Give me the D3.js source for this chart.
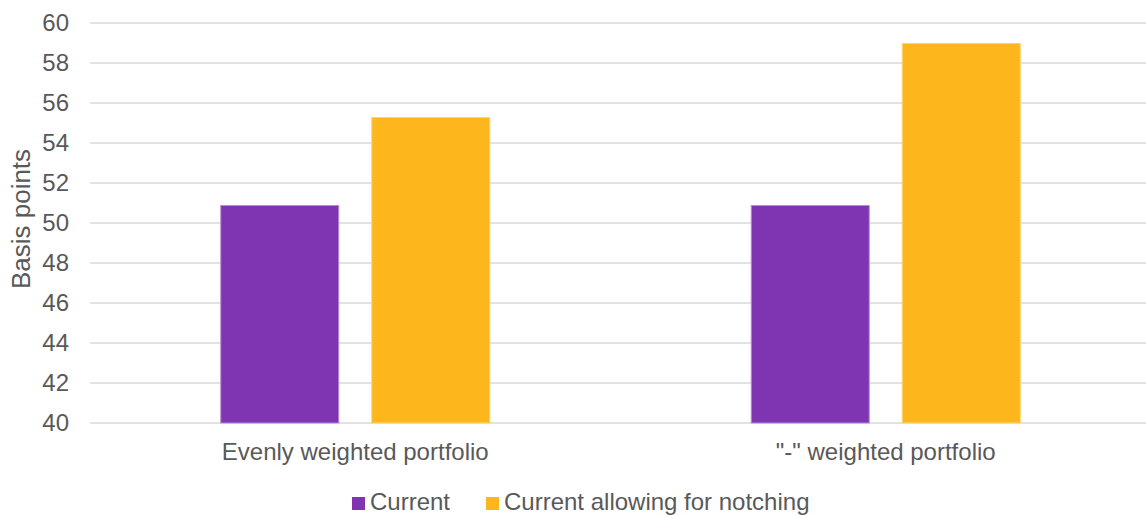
<!DOCTYPE html>
<html>
<head>
<meta charset="utf-8">
<script src="https://cdn.jsdelivr.net/npm/d3@7"></script>
<style>
  html, body { margin: 0; padding: 0; background: #fff; }
  svg { display: block; font-family: "Liberation Sans", Arial, sans-serif; }
</style>
</head>
<body>
<svg id="chart" width="1146" height="515"></svg>
<script>
const categories = ["Evenly weighted portfolio", "\"-\" weighted portfolio"];
const seriesNames = ["Current", "Current allowing for notching"];
const currentValues = [50.9, 50.9];
const notchingValues = [55.3, 59.0];
const yTicks = [40, 42, 44, 46, 48, 50, 52, 54, 56, 58, 60];
const colors = ["#7F35B1", "#FDB71D"];
const strokeColors = ["#B98BD8", "#FFD36E"];

const seriesValues = [currentValues, notchingValues];
const svg = d3.select("#chart");
const plotLeft = 90, plotRight = 1151, plotTop = 23, plotBottom = 423;

const y = d3.scaleLinear().domain([40, 60]).range([plotBottom, plotTop]);
const x0 = d3.scaleBand().domain(categories).range([plotLeft, plotRight]).padding(0);
const x1 = d3.scaleBand().domain(seriesNames)
  .range([130.25, 400.25]).paddingInner(0.212).paddingOuter(0);

// gridlines
svg.append("g").selectAll("line").data(yTicks).join("line")
  .attr("x1", plotLeft).attr("x2", 1146)
  .attr("y1", d => y(d)).attr("y2", d => y(d))
  .attr("stroke", "#d9d9d9").attr("stroke-width", 1.3);

// y tick labels
svg.append("g").selectAll("text").data(yTicks).join("text")
  .attr("x", 69).attr("y", d => y(d)).attr("dy", "0.35em")
  .attr("text-anchor", "end").attr("fill", "#595959")
  .attr("font-size", 24).text(d => d);

// y axis title
svg.append("text")
  .attr("transform", `translate(30, 219) rotate(-90)`)
  .attr("text-anchor", "middle").attr("fill", "#595959")
  .attr("font-size", 26).text("Basis points");

// bars
const groups = svg.append("g").selectAll("g").data(categories).join("g")
  .attr("transform", d => `translate(${x0(d)},0)`);
groups.selectAll("rect")
  .data((c, ci) => seriesNames.map((s, si) => ({ s, si, v: seriesValues[si][ci] })))
  .join("rect")
  .attr("x", d => x1(d.s) + 0.5)
  .attr("width", x1.bandwidth() - 1)
  .attr("y", d => y(d.v) + 0.5)
  .attr("height", d => y(40) - y(d.v) - 0.5)
  .attr("fill", d => colors[d.si])
  .attr("stroke", d => strokeColors[d.si])
  .attr("stroke-width", 1);

// category labels
svg.append("g").selectAll("text").data(categories).join("text")
  .attr("x", d => x0(d) + (130.25 + 400.25) / 2).attr("y", 460)
  .attr("text-anchor", "middle").attr("fill", "#595959")
  .attr("font-size", 24).text(d => d);

// legend
const legendX = [352, 486];
const lg = svg.append("g").selectAll("g").data(seriesNames).join("g")
  .attr("transform", (d, i) => `translate(${legendX[i]},0)`);
lg.append("rect").attr("x", 0).attr("y", 497).attr("width", 13).attr("height", 13)
  .attr("fill", (d, i) => colors[i]);
lg.append("text").attr("x", 18).attr("y", 510)
  .attr("fill", "#595959").attr("font-size", 24).text(d => d);
</script>
</body>
</html>
